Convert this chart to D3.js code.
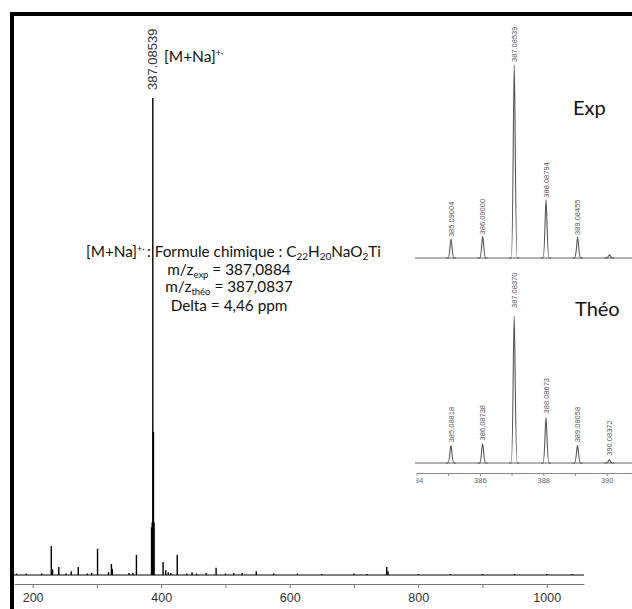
<!DOCTYPE html>
<html>
<head>
<meta charset="utf-8">
<script src="https://cdnjs.cloudflare.com/ajax/libs/d3/7.8.5/d3.min.js"></script>
<style>
  body { margin: 0; background: #fff; }
  .tick text { font-family: "Liberation Sans", Arial, sans-serif; }
  .note { font-family: Lato, "Open Sans", sans-serif; fill: #111; }
</style>
</head>
<body>
<div id="chart"></div>
<script>
// main spectrum, m/z and relative intensity (%)
var mainMz  = [175, 190, 214, 229, 231, 240.7, 252, 260, 271, 285, 292, 301, 318, 322.6, 324, 350, 356, 361.5,
               385, 386, 387, 388, 389, 403, 407, 411, 415, 425, 440, 448, 455, 470, 485.5, 500, 513, 526, 548,
               575, 612, 650, 700, 720, 751, 753, 800, 850, 900, 950, 1000, 1040];
var mainInt = [0.3, 0.3, 0.3, 6.1, 1.2, 1.7, 0.3, 0.8, 1.7, 0.3, 0.4, 5.5, 0.6, 2.3, 1.3, 0.4, 0.4, 4.2,
               10, 11, 100, 30, 11, 2.7, 1.0, 0.6, 0.4, 4.2, 0.3, 0.6, 0.3, 0.4, 1.5, 0.3, 0.4, 0.4, 0.8,
               0.3, 0.3, 0.2, 0.3, 0.2, 1.7, 0.8, 0.2, 0.2, 0.2, 0.2, 0.2, 0.2];
var mainTicks = [200, 300, 400, 500, 600, 700, 800, 900, 1000];

// isotope pattern, experimental
var expMz     = [385.09004, 386.09000, 387.08539, 388.08794, 389.08455, 390.09];
var expInt    = [0.098, 0.112, 1.0, 0.302, 0.109, 0.016];
var expLabels = ["385.09004", "386.09000", "387.08539", "388.08794", "389.08455", ""];

// isotope pattern, theoretical
var theoMz     = [385.08818, 386.08738, 387.08370, 388.08673, 389.08058, 390.08372];
var theoInt    = [0.12, 0.133, 1.0, 0.31, 0.12, 0.022];
var theoLabels = ["385.08818", "386.08738", "387.08370", "388.08673", "389.08058", "390.08372"];

var insetTicks = [384, 385, 386, 387, 388, 389, 390];

var W = 632, H = 609;
var svg = d3.select('#chart').append('svg')
  .attr('width', W).attr('height', H);

// frame
svg.append('rect').attr('x', 10).attr('y', 12).attr('width', W - 10).attr('height', 4).attr('fill', '#000');
svg.append('rect').attr('x', 10).attr('y', 12).attr('width', 4).attr('height', H - 12).attr('fill', '#000');

// ---- main spectrum
var x = d3.scaleLinear().domain([171, 1058]).range([14, 584]);
var y = d3.scaleLinear().domain([0, 100]).range([575, 98]);

svg.append('line')
  .attr('x1', x.range()[0]).attr('x2', x.range()[1])
  .attr('y1', y(0)).attr('y2', y(0))
  .attr('stroke', '#000').attr('stroke-width', 1);

svg.selectAll('line.stick').data(mainMz).enter().append('line')
  .attr('class', 'stick')
  .attr('x1', function(d) { return x(d); }).attr('x2', function(d) { return x(d); })
  .attr('y1', y(0)).attr('y2', function(d, i) { return y(mainInt[i]); })
  .attr('stroke', '#000').attr('stroke-width', 1.4);

var xAxis = svg.append('g')
  .attr('transform', 'translate(0,584)')
  .call(d3.axisBottom(x).tickValues(mainTicks).tickSize(4).tickPadding(5).tickSizeOuter(0)
    .tickFormat(function(d) { return d % 200 === 0 ? d : ''; }));
xAxis.select('.domain').attr('stroke', '#777');
xAxis.selectAll('.tick line').attr('stroke', '#777');
xAxis.selectAll('.tick text').attr('font-size', 12.5).attr('fill', '#333');

svg.append('text')
  .attr('transform', 'translate(' + x(387.08539) + ',90) rotate(-90)')
  .attr('dy', '0.35em')
  .attr('font-family', '"Liberation Sans", Arial, sans-serif')
  .attr('font-size', 13).attr('fill', '#333')
  .text('387.08539');

var ion = svg.append('text').attr('class', 'note').attr('x', 164).attr('y', 62).attr('font-size', 15.5);
ion.append('tspan').text('[M+Na]');
ion.append('tspan').attr('dy', -6).attr('font-size', 9).text('+·');

// formula block
var l1 = svg.append('text').attr('class', 'note').attr('x', 86).attr('y', 257).attr('font-size', 15.3);
l1.append('tspan').text('[M+Na]');
l1.append('tspan').attr('dy', -5).attr('font-size', 9).text('+· ');
l1.append('tspan').attr('dy', 5).text(' : Formule chimique : C');
l1.append('tspan').attr('dy', 3).attr('font-size', 10).text('22');
l1.append('tspan').attr('dy', -3).text('H');
l1.append('tspan').attr('dy', 3).attr('font-size', 10).text('20');
l1.append('tspan').attr('dy', -3).text('NaO');
l1.append('tspan').attr('dy', 3).attr('font-size', 10).text('2');
l1.append('tspan').attr('dy', -3).text('Ti');

var l2 = svg.append('text').attr('class', 'note').attr('x', 229).attr('y', 275)
  .attr('font-size', 15.3).attr('text-anchor', 'middle');
l2.append('tspan').text('m/z');
l2.append('tspan').attr('dy', 2.5).attr('font-size', 9.5).text('exp');
l2.append('tspan').attr('dy', -2.5).text(' = 387,0884');

var l3 = svg.append('text').attr('class', 'note').attr('x', 229).attr('y', 292)
  .attr('font-size', 15.3).attr('text-anchor', 'middle');
l3.append('tspan').text('m/z');
l3.append('tspan').attr('dy', 2.5).attr('font-size', 9.5).text('théo');
l3.append('tspan').attr('dy', -2.5).text(' = 387,0837');

svg.append('text').attr('class', 'note').attr('x', 229).attr('y', 311)
  .attr('font-size', 15.3).attr('text-anchor', 'middle')
  .text('Delta = 4,46 ppm');

// ---- isotope insets
svg.append('clipPath').attr('id', 'insetClip')
  .append('rect').attr('x', 415).attr('y', 16).attr('width', W - 415).attr('height', 480);
svg.append('clipPath').attr('id', 'axisClip')
  .append('rect').attr('x', 416.5).attr('y', 16).attr('width', W - 416).attr('height', 480);

var inset = svg.append('g').attr('clip-path', 'url(#insetClip)');
var xi = d3.scaleLinear().domain([383.97, 390.8]).range([415.5, 632]);
var yExp = d3.scaleLinear().domain([0, 1]).range([258, 65]);
var yTheo = d3.scaleLinear().domain([0, 1]).range([463, 316]);

function peakPath(cx, top, base) {
  var p = d3.path();
  p.moveTo(cx - 5, base);
  p.lineTo(cx - 3, base);
  p.bezierCurveTo(cx - 1.2, base, cx - 0.8, top, cx, top);
  p.bezierCurveTo(cx + 0.8, top, cx + 1.2, base, cx + 3, base);
  p.lineTo(cx + 5, base);
  return p.toString();
}

function drawPattern(mz, inten, labels, ys, labelGap) {
  var g = inset.append('g');
  g.append('line')
    .attr('x1', 415).attr('x2', W)
    .attr('y1', ys(0)).attr('y2', ys(0))
    .attr('stroke', '#666').attr('stroke-width', 1);
  g.selectAll('path').data(mz).enter().append('path')
    .attr('d', function(d, i) { return peakPath(xi(d), ys(inten[i]), ys(0)); })
    .attr('fill', 'none').attr('stroke', '#555').attr('stroke-width', 1.1);
  g.selectAll('text').data(mz).enter().append('text')
    .attr('transform', function(d, i) {
      return 'translate(' + xi(d) + ',' + (ys(inten[i]) - labelGap[i]) + ') rotate(-90)';
    })
    .attr('dy', '0.35em')
    .attr('font-family', '"Liberation Sans", Arial, sans-serif')
    .attr('font-size', 7.5).attr('fill', '#555')
    .text(function(d, i) { return labels[i]; });
  return g;
}

drawPattern(expMz, expInt, expLabels, yExp, [2, 2, 3, 2, 2, 2]);
drawPattern(theoMz, theoInt, theoLabels, yTheo, [3, 3, 8, 4, 3, 4]);

var xiAxis = svg.append('g')
  .attr('clip-path', 'url(#axisClip)')
  .append('g')
  .attr('transform', 'translate(0,473)')
  .call(d3.axisBottom(xi).tickValues(insetTicks).tickSize(3).tickPadding(2).tickSizeOuter(0)
    .tickFormat(function(d) { return d % 2 === 0 ? d : ''; }));
xiAxis.select('.domain').attr('stroke', '#888');
xiAxis.selectAll('.tick line').attr('stroke', '#888');
xiAxis.selectAll('.tick text').attr('font-size', 7.5).attr('fill', '#666');

svg.append('text').attr('class', 'note').attr('x', 573).attr('y', 115).attr('font-size', 20).text('Exp');
svg.append('text').attr('class', 'note').attr('x', 575).attr('y', 316).attr('font-size', 20).text('Théo');
</script>
</body>
</html>
